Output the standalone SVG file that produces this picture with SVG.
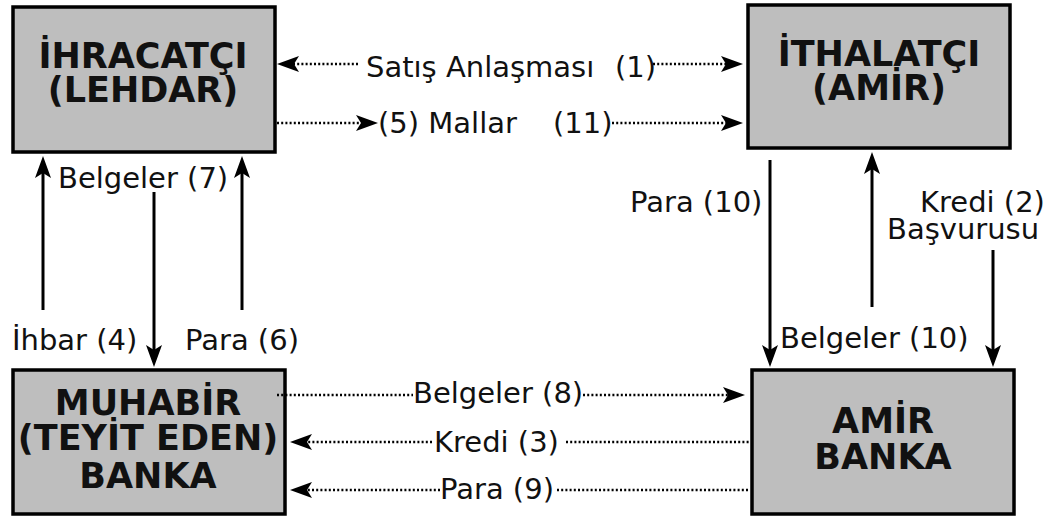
<svg xmlns="http://www.w3.org/2000/svg" width="1053" height="522" viewBox="0 0 1053 522">
  <style>
    .box { fill: #bebebe; stroke: #000; stroke-width: 3.5; }
    .title { font-family: "DejaVu Sans", "Liberation Sans", sans-serif; font-weight: bold; font-size: 35px; fill: #111; text-anchor: middle; }
    .lbl { font-family: "DejaVu Sans", "Liberation Sans", sans-serif; font-size: 29px; fill: #111; }
    .solid { stroke: #000; stroke-width: 3; fill: none; }
    .dot { stroke: #000; stroke-width: 2.5; stroke-dasharray: 2 2.2; fill: none; }
    .arr { marker-end: url(#ah); }
  </style>
  <defs>
    <marker id="ah" viewBox="0 0 22 16" markerWidth="22" markerHeight="16" markerUnits="userSpaceOnUse" refX="10" refY="8" orient="auto">
      <path d="M0,0 L22,8 L0,16 L5,8 z" fill="#000"/>
    </marker>
  </defs>
  <rect width="1053" height="522" fill="#fff"/>

  <!-- parties and banks -->
  <g id="ihracatci">
    <rect class="box" x="13" y="7" width="262" height="145"/>
    <text class="title" x="143" y="68">İHRACATÇI</text>
    <text class="title" x="143" y="102">(LEHDAR)</text>
  </g>
  <g id="ithalatci">
    <rect class="box" x="748" y="5" width="262" height="143"/>
    <text class="title" x="879" y="66">İTHALATÇI</text>
    <text class="title" x="879" y="100">(AMİR)</text>
  </g>
  <g id="muhabir-banka">
    <rect class="box" x="13" y="370" width="272" height="144"/>
    <text class="title" x="148" y="415">MUHABİR</text>
    <text class="title" x="148" y="450">(TEYİT EDEN)</text>
    <text class="title" x="148" y="488">BANKA</text>
  </g>
  <g id="amir-banka">
    <rect class="box" x="752" y="370" width="262" height="144"/>
    <text class="title" x="883" y="433">AMİR</text>
    <text class="title" x="883" y="469">BANKA</text>
  </g>

  <!-- flows between the parties -->
  <g id="connectors">
    <!-- top dotted flows -->
    <line class="dot arr" x1="358" y1="64" x2="289" y2="64"/>
    <line class="dot arr" x1="653" y1="64" x2="731" y2="64"/>
    <line class="dot arr" x1="277" y1="123" x2="366" y2="123"/>
    <line class="dot arr" x1="612" y1="123" x2="731" y2="123"/>
    <!-- bottom dotted flows -->
    <line class="dot" x1="277" y1="395" x2="413" y2="395"/>
    <line class="dot arr" x1="583" y1="395" x2="733" y2="395"/>
    <line class="dot arr" x1="432" y1="442" x2="302" y2="442"/>
    <line class="dot" x1="566" y1="442" x2="750" y2="442"/>
    <line class="dot arr" x1="440" y1="490" x2="302" y2="490"/>
    <line class="dot" x1="557" y1="490" x2="750" y2="490"/>
    <!-- left vertical flows -->
    <line class="solid arr" x1="43" y1="310" x2="43" y2="168"/>
    <line class="solid arr" x1="154" y1="192" x2="154" y2="355"/>
    <line class="solid arr" x1="242" y1="310" x2="242" y2="168"/>
    <!-- right vertical flows -->
    <line class="solid arr" x1="770" y1="160" x2="770" y2="355"/>
    <line class="solid arr" x1="872" y1="307" x2="872" y2="164"/>
    <line class="solid arr" x1="993" y1="250" x2="993" y2="355"/>

    <!-- labels -->
    <text class="lbl" x="366" y="77">Satış Anlaşması <tspan x="615">(1)</tspan></text>
    <text class="lbl" x="378" y="133">(5) Mallar <tspan x="553">(11)</tspan></text>
    <text class="lbl" x="58" y="188">Belgeler (7)</text>
    <text class="lbl" x="12" y="350">İhbar (4)</text>
    <text class="lbl" x="185" y="350">Para (6)</text>
    <text class="lbl" x="630" y="212">Para (10)</text>
    <text class="lbl" x="920" y="212">Kredi (2)</text>
    <text class="lbl" x="887" y="239">Başvurusu</text>
    <text class="lbl" x="780" y="348">Belgeler (10)</text>
    <text class="lbl" x="413" y="403">Belgeler (8)</text>
    <text class="lbl" x="434" y="452">Kredi (3)</text>
    <text class="lbl" x="440" y="499">Para (9)</text>
  </g>
</svg>
